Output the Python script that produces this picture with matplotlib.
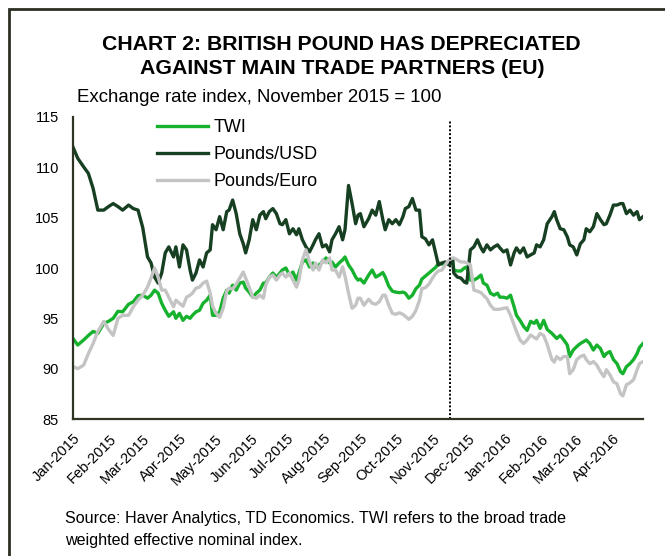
import numpy as np
import matplotlib
matplotlib.use("Agg")
import matplotlib.pyplot as plt
import matplotlib.dates as mdates
from matplotlib.patches import Rectangle

plt.rcParams["font.family"] = ["Liberation Sans", "DejaVu Sans"]

# days since 1 Jan 2015
days = [
    0, 4, 9, 13, 17, 21, 26, 30, 34, 38, 42, 47, 51, 55, 59, 63, 66, 69, 72, 75, 78, 81,
    85, 87, 90, 93, 96, 99, 101, 104, 107, 110, 113, 116, 118, 121, 124, 127, 130, 132,
    135, 138, 141, 144, 146, 149, 152, 155, 158, 161,
    163, 166, 169, 172, 175, 177, 180, 183, 186, 189, 191, 194, 197, 200, 203, 205, 208,
    211, 214, 217, 219, 222, 225, 228, 230, 233, 236, 239, 241,
    243, 246, 250, 253, 256, 259, 262, 264, 267, 270, 273, 276, 279, 281, 284, 287, 290,
    293, 295, 298, 301, 304, 307, 309, 312, 315, 318, 321,
    322, 325, 328, 331, 333, 336, 339, 342, 345, 347, 350, 353, 356, 359, 361, 364, 367,
    370, 373, 375, 378, 381, 384, 387, 390, 392, 395, 398, 401,
    405, 407, 409, 412, 415, 418, 420, 423, 426, 429, 432, 434, 437, 440, 443, 446, 449,
    451, 454, 457, 460, 463, 465, 468, 471, 474, 477, 479, 482,
]

twi = [
    93.0, 92.35, 92.85, 93.3, 93.7, 93.5, 94.5, 94.7, 95.0, 95.7, 95.65, 96.4, 96.65, 97.25,
    97.3, 97.0, 97.3, 97.8, 97.5, 96.5, 95.8, 95.2,
    95.65, 95.0, 95.5, 94.8, 95.2, 95.0, 95.3, 95.65, 95.8, 96.5, 96.8, 97.3, 95.3, 95.3,
    95.65, 97.0, 97.8, 97.5, 98.3, 97.8, 98.5, 98.6, 98.0, 97.6, 97.1, 97.5, 97.8, 98.5,
    98.5, 99.1, 99.5, 99.1, 99.5, 99.8, 100.0, 99.3, 99.6, 98.8, 99.5, 100.6, 100.8, 100.1,
    100.5, 100.1, 100.3, 100.6, 101.0, 100.5, 100.6, 100.1, 100.5, 100.8, 101.1, 100.3,
    99.8, 99.1, 98.8,
    98.9, 98.5, 99.3, 99.8, 99.1, 99.3, 99.55, 99.1, 98.2, 97.7, 97.6, 97.55, 97.6, 97.5,
    97.0, 97.3, 97.95, 98.3, 98.9, 99.2, 99.5, 99.8, 100.1, 100.5, 100.4, 100.4, 100.6, 100.9,
    99.8, 99.7, 99.7, 100.0, 100.1, 98.8, 98.8, 99.0, 99.3, 98.5, 98.3, 97.5, 97.3, 97.5,
    97.1, 97.1, 97.0, 97.3, 96.15, 95.3, 94.8, 94.2, 93.8, 94.7, 94.5, 94.8, 94.0, 94.8, 93.9,
    93.5, 93.25, 93.0, 93.3, 92.85, 92.35, 91.2, 91.85, 92.2, 92.5, 92.7, 92.85, 92.5, 91.85,
    92.35, 92.0, 91.2, 91.5, 91.7, 90.9, 90.5, 89.7, 89.5, 90.2, 90.5, 90.9, 91.5, 92.1, 92.5,
]

usd = [
    112.0, 110.9, 110.05, 109.4, 107.9, 105.75, 105.75, 106.1, 106.4, 106.1, 105.75, 106.25,
    105.9, 105.75, 104.0, 101.1, 100.5, 99.1, 98.5, 99.5, 101.5, 102.1,
    101.1, 102.1, 100.1, 102.3, 101.8, 99.8, 98.8, 99.5, 100.8, 100.1, 101.5, 101.8, 104.3,
    103.8, 105.1, 103.8, 105.6, 105.75, 106.75, 105.4, 103.4, 102.4, 101.5, 102.8, 104.8,
    103.8, 105.25, 105.6,
    104.9, 105.6, 105.9, 105.4, 104.4, 104.3, 104.8, 103.4, 103.9, 103.3, 103.9, 102.8,
    102.1, 101.6, 102.3, 102.8, 103.4, 102.1, 102.3, 101.6, 102.8, 103.4, 104.1, 102.8,
    103.8, 108.2, 106.4, 104.4, 105.25,
    105.4, 104.1, 104.9, 105.75, 105.25, 106.6, 104.8, 103.8, 104.8, 104.4, 104.8, 104.3,
    105.1, 105.9, 106.1, 106.9, 105.75, 105.75, 103.1, 102.9, 102.3, 102.8, 101.3, 100.3,
    100.5, 100.6, 100.3, 100.8,
    99.5, 99.1, 99.0, 98.6, 98.5, 101.8, 102.1, 102.8, 102.0, 101.6, 102.3, 101.8, 102.1,
    102.3, 102.0, 101.6, 101.8, 100.3, 101.5, 102.0, 101.5, 102.0, 101.1, 101.3, 101.5,
    102.3, 102.1, 102.8, 104.4,
    105.1, 105.6, 104.8, 103.9, 103.8, 103.1, 102.3, 102.1, 101.3, 102.4, 102.8, 103.9,
    103.6, 104.1, 105.4, 104.8, 104.3, 104.4, 105.25, 106.25, 106.25, 106.4, 106.4, 105.4,
    105.75, 105.25, 105.6, 104.8, 105.1,
]

euro = [
    90.2, 90.0, 90.35, 91.5, 92.5, 93.7, 94.7, 93.9, 93.3, 95.0, 95.3, 95.3, 96.15, 96.8,
    97.3, 98.1, 99.0, 100.0, 99.1, 97.8, 97.8, 97.1,
    96.15, 96.8, 96.5, 96.2, 97.1, 97.3, 97.5, 98.0, 98.1, 98.5, 98.7, 97.5, 96.2, 95.5,
    95.1, 96.0, 97.7, 98.0, 97.9, 98.4, 99.0, 99.6, 99.0, 98.1, 97.1, 97.0, 97.3, 97.0,
    98.3, 99.1, 99.3, 98.8, 99.3, 99.5, 99.1, 99.5, 98.8, 98.1, 98.8, 100.8, 101.8, 100.6,
    99.8, 100.5, 99.8, 100.8, 100.5, 101.0, 99.8, 99.8, 99.1, 100.1, 99.2, 97.5, 96.0,
    96.3, 97.0,
    97.0, 96.3, 96.9, 96.5, 96.4, 96.65, 97.3, 97.3, 96.3, 95.5, 95.4, 95.55, 95.4, 95.2,
    94.9, 95.2, 95.8, 96.8, 97.95, 98.05, 98.4, 99.0, 99.5, 99.7, 99.8, 100.35, 100.8, 101.0,
    101.0, 100.8, 100.6, 100.6, 100.5, 100.3, 97.8, 97.7, 97.55, 97.3, 96.95, 96.3, 95.9,
    95.9, 95.9, 96.0, 96.05, 95.3, 94.35, 93.7, 92.85, 92.5, 92.85, 93.35, 93.1, 92.95,
    93.5, 93.3, 92.4,
    90.9, 90.65, 91.2, 90.9, 91.2, 91.2, 89.5, 89.9, 90.9, 91.2, 91.35, 90.9, 90.5, 90.7,
    90.35, 89.7, 89.2, 89.9, 89.4, 88.7, 88.5, 87.5, 87.3, 88.4, 88.6, 88.9, 89.9, 90.5, 90.7,
]

series_names = ["TWI", "Pounds/USD", "Pounds/Euro"]
series_colors = ["#16b22e", "#173f22", "#c4c4c4"]
month_ticks = ["2015-%02d-01" % m for m in range(1, 13)] + ["2016-%02d-01" % m for m in range(1, 5)]
marker_date = "2015-11-16"

dates = np.datetime64("2015-01-01") + np.array(days).astype("timedelta64[D]")

fig = plt.figure(figsize=(6.65, 5.56), dpi=100)
ax = fig.add_axes([73 / 665, 1 - 419 / 556, 570 / 665, 302 / 556])

for name, vals, col in zip(series_names, [twi, usd, euro], series_colors):
    ax.plot(dates, vals, color=col, lw=2.4, label=name, solid_joinstyle="round")

ax.axvline(np.datetime64(marker_date), color="black", lw=1.4, ls=(0, (1, 1)), ymax=0.99)

ax.set_ylim(85, 115)
ax.set_yticks([85, 90, 95, 100, 105, 110, 115])
ax.set_xlim(np.datetime64("2015-01-01"), np.datetime64("2016-04-27"))
ax.set_xticks([np.datetime64(t) for t in month_ticks])
ax.xaxis.set_major_formatter(mdates.DateFormatter("%b-%Y"))
ax.tick_params(axis="both", length=0, labelsize=10.5, colors="black")
ax.tick_params(axis="y", pad=10)
ax.tick_params(axis="x", pad=9)
for lab in ax.get_xticklabels():
    lab.set_rotation(45)
    lab.set_ha("right")
    lab.set_va("top")
    lab.set_rotation_mode("anchor")

for s in ["top", "right"]:
    ax.spines[s].set_visible(False)
for s in ["left", "bottom"]:
    ax.spines[s].set_color("#2e3524")
    ax.spines[s].set_linewidth(1.6)

ax.legend(loc="upper left", bbox_to_anchor=(157 / 665, 1 - 119 / 556),
          bbox_transform=fig.transFigure, frameon=False, fontsize=13,
          handlelength=2.8, handletextpad=0.35, labelspacing=0.55,
          borderpad=0, borderaxespad=0)

fig.text(0.514, 1 - 44 / 556, "CHART 2: BRITISH POUND HAS DEPRECIATED",
         ha="center", va="center", fontsize=15.3, fontweight="bold")
fig.text(0.514, 1 - 69 / 556, "AGAINST MAIN TRADE PARTNERS (EU)",
         ha="center", va="center", fontsize=15.3, fontweight="bold")
fig.text(77 / 665, 1 - 97 / 556, "Exchange rate index, November 2015 = 100",
         ha="left", va="center", fontsize=13.4)
fig.text(65 / 665, 1 - 519 / 556, "Source: Haver Analytics, TD Economics. TWI refers to the broad trade",
         ha="left", va="center", fontsize=11.6)
fig.text(65 / 665, 1 - 541 / 556, "weighted effective nominal index.",
         ha="left", va="center", fontsize=11.6)

fig.patches.append(Rectangle((9 / 665, -0.1), 1.2, 1.1 - 9 / 556, transform=fig.transFigure,
                             fill=False, lw=2, edgecolor="#2a2f22"))

fig.savefig("out.png", dpi=100)
